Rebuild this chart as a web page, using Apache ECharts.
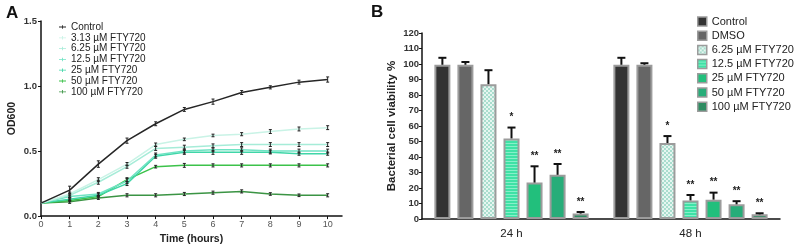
<!DOCTYPE html>
<html><head><meta charset="utf-8">
<script src="https://cdn.jsdelivr.net/npm/echarts@6/dist/echarts.min.js"></script>
<style>html,body{margin:0;padding:0;background:#fff}#c{width:797px;height:250px}</style>
</head><body><div id="c"></div>
<script>
// ---------- Panel A data ----------
var timeHours = [0,1,2,3,4,5,6,7,8,9,10];
var xTickValues = [0,1,2,3,4,5,6,7,8,9,10];
var yTickA = [0,0.5,1.0,1.5];
var lineNames = ['Control','3.13 µM FTY720','6.25 µM FTY720','12.5 µM FTY720','25 µM FTY720','50 µM FTY720','100 µM FTY720'];
var odControl = [0.10,0.20,0.40,0.58,0.71,0.82,0.88,0.95,0.99,1.03,1.05];
var od313 = [0.10,0.17,0.28,0.40,0.55,0.59,0.62,0.63,0.65,0.67,0.68];
var od625 = [0.10,0.16,0.26,0.38,0.52,0.53,0.54,0.55,0.55,0.55,0.55];
var od125 = [0.10,0.15,0.17,0.27,0.47,0.50,0.51,0.51,0.50,0.50,0.50];
var od25 = [0.10,0.13,0.16,0.25,0.46,0.49,0.49,0.49,0.49,0.48,0.48];
var od50 = [0.10,0.12,0.15,0.28,0.38,0.39,0.39,0.39,0.39,0.39,0.39];
var od100 = [0.10,0.11,0.14,0.16,0.16,0.17,0.18,0.19,0.17,0.16,0.16];
var errControl = [0.005,0.03,0.025,0.02,0.015,0.015,0.02,0.015,0.012,0.015,0.02];
var err313 = [0.005,0.015,0.015,0.012,0.012,0.01,0.01,0.012,0.015,0.015,0.015];
var err625 = [0.005,0.015,0.015,0.012,0.015,0.015,0.015,0.015,0.015,0.015,0.015];
var err125 = [0.005,0.012,0.012,0.02,0.015,0.015,0.015,0.015,0.015,0.015,0.015];
var err25 = [0.005,0.012,0.012,0.015,0.015,0.015,0.015,0.015,0.012,0.012,0.012];
var err50 = [0.005,0.01,0.01,0.015,0.01,0.015,0.012,0.012,0.012,0.012,0.012];
var err100 = [0.005,0.012,0.012,0.012,0.012,0.012,0.012,0.012,0.01,0.01,0.012];

// ---------- Panel B data ----------
var groups = ['24 h','48 h'];
var barNames = ['Control','DMSO','6.25 µM FTY720','12.5 µM FTY720','25 µM FTY720','50 µM FTY720','100 µM FTY720'];
var yTickB = [0,10,20,30,40,50,60,70,80,90,100,110,120];
var vControl = [99.5,99.5];
var vDMSO = [99.5,99.5];
var v625 = [87,49];
var v125 = [52,12];
var v25 = [23.5,12.5];
var v50 = [28.5,9.5];
var v100 = [3.5,3];
var eControl = [4.5,4.5];
var eDMSO = [1.8,1];
var e625 = [9,4.5];
var e125 = [7,3.5];
var e25 = [10.5,4.5];
var e50 = [7,2];
var e100 = [1,0.7];
var sigControl = ['',''];
var sigDMSO = ['',''];
var sig625 = ['','*'];
var sig125 = ['*','**'];
var sig25 = ['**','**'];
var sig50 = ['**','**'];
var sig100 = ['**','**'];

// ---------- styles ----------
var FONT = 'Liberation Sans, Arial, sans-serif';
var PREFIX = 'B|';
var lineColors = ['#262626','#c9f3e6','#a6ecd8','#6fe3c3','#3fd6a8','#3cc24a','#3b9444'];
function pattern(kind){
  var cv = document.createElement('canvas');
  var ctx = cv.getContext('2d');
  if(kind==='checker'){
    cv.width=4;cv.height=4;
    ctx.fillStyle='#e6f6f0';ctx.fillRect(0,0,4,4);
    ctx.fillStyle='#a9ddce';ctx.fillRect(0,0,2,2);ctx.fillRect(2,2,2,2);
  } else {
    cv.width=4;cv.height=3;
    ctx.fillStyle='#3ee2a6';ctx.fillRect(0,0,4,3);
    ctx.fillStyle='#86f0c9';ctx.fillRect(0,2,4,1);
  }
  return {image:cv, repeat:'repeat'};
}
var barFills = ['#333333','#666666',pattern('checker'),pattern('stripes'),'#22bf7c','#27ad79','#2e8c62'];

var odSeries = [odControl,od313,od625,od125,od25,od50,od100];
var odErr = [errControl,err313,err625,err125,err25,err50,err100];
var bVals = [vControl,vDMSO,v625,v125,v25,v50,v100];
var bErr = [eControl,eDMSO,e625,e125,e25,e50,e100];
var bSig = [sigControl,sigDMSO,sig625,sig125,sig25,sig50,sig100];

var series = [];
// Panel A lines
lineNames.forEach(function(n,i){
  series.push({
    name:n, type:'line', xAxisIndex:0, yAxisIndex:0,
    data: timeHours.map(function(t,k){return [t, odSeries[i][k]];}),
    symbol:'none', lineStyle:{color:lineColors[i], width:1.5}, itemStyle:{color:lineColors[i]},
    z: 10-i, animation:false
  });
  series.push({
    type:'custom', xAxisIndex:0, yAxisIndex:0, z:20, silent:true, animation:false,
    data: timeHours.map(function(t,k){return [t, odSeries[i][k], odErr[i][k]];}),
    renderItem:function(params, api){
      if(api.value(0)===0) return null;
      var x=api.value(0), y=api.value(1), e=api.value(2);
      var lo=api.coord([x,y-e]), hi=api.coord([x,y+e]);
      var st={stroke:'#222',lineWidth:1};
      return {type:'group',children:[
        {type:'line',shape:{x1:lo[0],y1:lo[1],x2:hi[0],y2:hi[1]},style:st},
        {type:'line',shape:{x1:lo[0]-1.5,y1:lo[1],x2:lo[0]+1.5,y2:lo[1]},style:st},
        {type:'line',shape:{x1:hi[0]-1.5,y1:hi[1],x2:hi[0]+1.5,y2:hi[1]},style:st}
      ]};
    }
  });
});
// Panel B bars
var BW = 16, GAPPCT = 44, STEP = BW*(1+GAPPCT/100);
barNames.forEach(function(n,i){
  series.push({
    name:PREFIX+n, type:'bar', xAxisIndex:1, yAxisIndex:1,
    data: bVals[i], barWidth:BW, barGap:GAPPCT+'%',
    itemStyle:{color:barFills[i], borderColor:'#9c9c9c', borderWidth:2},
    animation:false
  });
  series.push({
    type:'custom', xAxisIndex:1, yAxisIndex:1, z:20, silent:true, animation:false,
    data: bVals[i].map(function(v,k){return [k, v, bErr[i][k]];}),
    renderItem:(function(idx){return function(params, api){
      var c=api.value(0), v=api.value(1), e=api.value(2);
      var sig = bSig[idx][c];
      var off=(idx-3)*STEP;
      var b=api.coord([c,v]), t=api.coord([c,v+e]);
      var x=b[0]+off;
      var st={stroke:'#111',lineWidth:2};
      var ch=[
        {type:'line',shape:{x1:x,y1:b[1],x2:x,y2:t[1]},style:st},
        {type:'line',shape:{x1:x-4,y1:t[1],x2:x+4,y2:t[1]},style:st}
      ];
      if(sig){
        ch.push({type:'text',style:{text:sig,x:x,y:t[1]-5,align:'center',verticalAlign:'bottom',
          fill:'#222',font:'bold 10px '+FONT}});
      }
      return {type:'group',children:ch};
    };})(i)
  });
});

var chart = echarts.init(document.getElementById('c'), null, {renderer:'canvas'});
var axisLineStyle = {color:'#111', width:1.5};
chart.setOption({
  backgroundColor:'#fff',
  animation:false,
  textStyle:{fontFamily:FONT},
  graphic:[
    {type:'text',left:6,top:5,style:{text:'A',font:'bold 17px '+FONT,fill:'#111'}},
    {type:'text',left:371,top:4,style:{text:'B',font:'bold 17px '+FONT,fill:'#111'}}
  ],
  legend:[
    {data:lineNames, orient:'vertical', left:54, top:17, itemWidth:7, itemHeight:8, itemGap:0.8,
     icon:'path://M0,4.4h10v1.2h-10z M4.4,2.5h1.2v5h-1.2z',
     textStyle:{fontSize:10, color:'#222', lineHeight:8, fontFamily:FONT}, selectedMode:false},
    {data:barNames.map(function(n){return PREFIX+n;}), orient:'vertical', left:692, top:11,
     itemWidth:9, itemHeight:9, itemGap:3.2, icon:'rect',
     formatter:function(n){return n.replace(PREFIX,'');},
     itemStyle:{borderColor:'#9c9c9c', borderWidth:1.5},
     textStyle:{fontSize:11, color:'#222', lineHeight:10, fontFamily:FONT}, selectedMode:false}
  ],
  grid:[
    {left:41, top:21, width:301, height:200},
    {left:422, top:33, width:358, height:186}
  ],
  xAxis:[
    {type:'value', gridIndex:0, min:0, max:10.5, interval:1,
     name:'Time (hours)', nameLocation:'middle', nameGap:16,
     nameTextStyle:{fontWeight:'bold', fontSize:10.5, color:'#222'},
     axisLine:{lineStyle:axisLineStyle},
     axisTick:{show:true, length:3, customValues:xTickValues, lineStyle:{color:'#111'}},
     axisLabel:{fontSize:9, color:'#555', margin:4, customValues:xTickValues},
     splitLine:{show:false}},
    {type:'category', gridIndex:1, data:groups,
     axisLine:{lineStyle:axisLineStyle}, axisTick:{show:false},
     axisLabel:{fontSize:11.5, color:'#222', margin:9}}
  ],
  yAxis:[
    {type:'value', gridIndex:0, min:0, max:1.5, interval:0.5,
     name:'OD600', nameLocation:'middle', nameGap:23, nameRotate:90,
     nameTextStyle:{fontWeight:'bold', fontSize:10.5, color:'#222'},
     axisLine:{show:true, lineStyle:axisLineStyle},
     axisTick:{show:true, length:3, lineStyle:{color:'#111'}},
     axisLabel:{fontSize:9.5, fontWeight:'bold', color:'#333', margin:4,
       formatter:function(v){return v.toFixed(1);}},
     splitLine:{show:false}},
    {type:'value', gridIndex:1, min:0, max:120, interval:10,
     name:'Bacterial cell viability %', nameLocation:'middle', nameGap:24, nameRotate:90,
     nameTextStyle:{fontWeight:'bold', fontSize:11.5, color:'#222'},
     axisLine:{show:true, lineStyle:axisLineStyle},
     axisTick:{show:true, length:3, lineStyle:{color:'#111'}},
     axisLabel:{fontSize:9.5, fontWeight:'bold', color:'#333', margin:3},
     splitLine:{show:false}}
  ],
  series:series
});
</script></body></html>
